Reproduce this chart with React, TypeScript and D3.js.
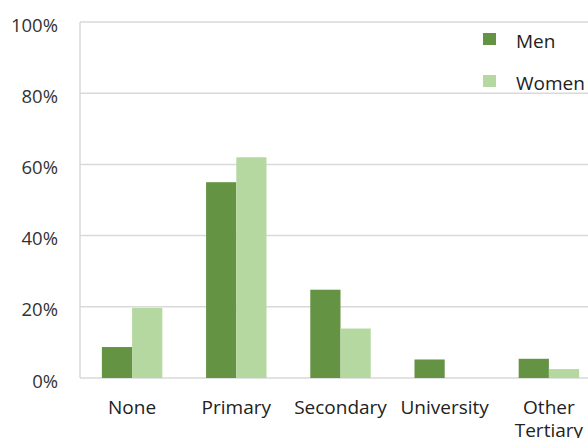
import React from "react";
import * as d3 from "d3";

const categories = ["None", "Primary", "Secondary", "University", "Other\nTertiary"];
const men = [0.087, 0.55, 0.248, 0.052, 0.054];
const women = [0.197, 0.62, 0.139, 0, 0.025];
const seriesNames = ["Men", "Women"];
const yTicks = [0, 0.2, 0.4, 0.6, 0.8, 1.0];

const colors = ["#649443", "#b5d8a0"];
const W = 588, H = 438;
const left = 80, right = 601, top = 22, bottom = 378;
const font = "'Open Sans', Lato, sans-serif";

export default function App() {
  const x = d3.scaleBand<string>().domain(categories).range([left, right]).paddingInner(0.42).paddingOuter(0.21);
  const xs = d3.scaleBand<string>().domain(seriesNames).range([0, x.bandwidth()]);
  const y = d3.scaleLinear().domain([0, 1]).range([bottom, top]);
  const fmt = d3.format(".0%");
  const data = [men, women];
  return (
    <svg width={W} height={H} style={{ position: "fixed", left: 0, top: 0, background: "#fff" }}>
      {yTicks.map((t) => (
        <g key={t}>
          <line x1={left} x2={right} y1={y(t)} y2={y(t)} stroke="#d9d9d9" strokeWidth={1.5} />
          <text x={58} y={y(t) + 9.5} textAnchor="end" fontFamily={font} fontSize={18.5} fill="#333">{fmt(t)}</text>
        </g>
      ))}
      <line x1={left} x2={left} y1={top} y2={bottom} stroke="#d9d9d9" strokeWidth={1.5} />
      {categories.map((c, i) => (
        <g key={c}>
          {seriesNames.map((s, j) => {
            const v = data[j][i];
            if (v <= 0) return null;
            return (
              <rect key={s} x={(x(c) as number) + (xs(s) as number)} width={xs.bandwidth()} y={y(v)} height={y(0) - y(v)} fill={colors[j]} />
            );
          })}
          {c.split("\n").map((line, k) => (
            <text key={k} x={(x(c) as number) + x.bandwidth() / 2} y={414 + k * 23} textAnchor="middle" fontFamily={font} fontSize={19} fill="#222">{line}</text>
          ))}
        </g>
      ))}
      {seriesNames.map((s, j) => (
        <g key={s}>
          <rect x={483} y={33 + j * 42} width={13} height={12} fill={colors[j]} />
          <text x={516} y={48 + j * 42} fontFamily={font} fontSize={19} fill="#222">{s}</text>
        </g>
      ))}
    </svg>
  );
}
